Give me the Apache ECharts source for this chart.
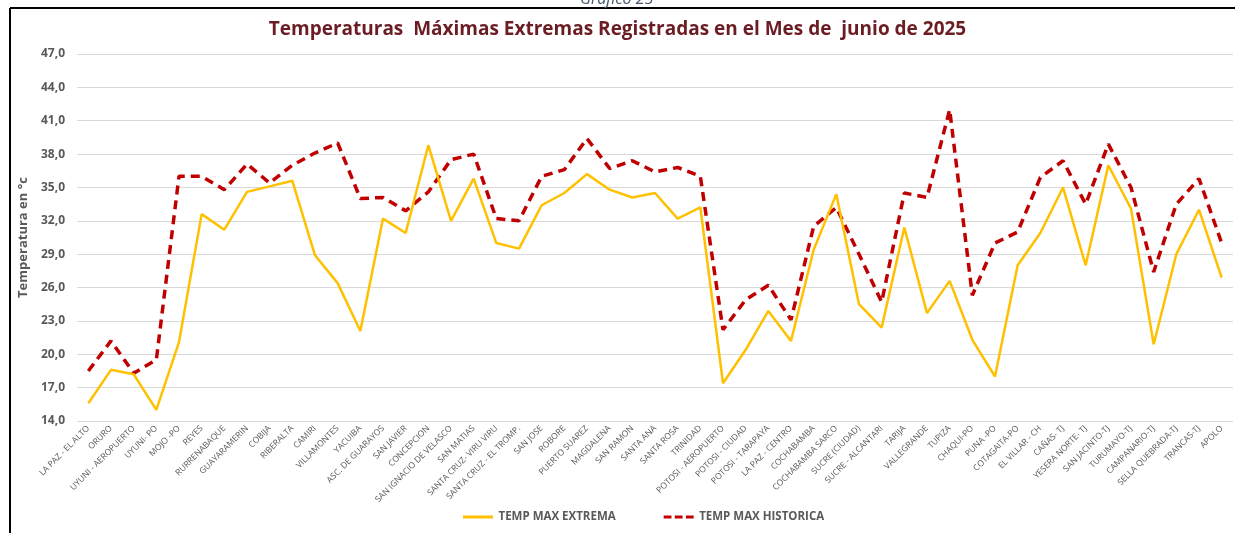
<!DOCTYPE html>
<html>
<head>
<meta charset="utf-8">
<script src="https://cdn.jsdelivr.net/npm/echarts@6/dist/echarts.min.js"></script>
<style>
  html, body { margin: 0; padding: 0; background: #fff; }
  #chart { width: 1235px; height: 533px; }
</style>
</head>
<body>
<div id="chart"></div>
<script>
const stations = [
  'LA PAZ - EL ALTO', 'ORURO', 'UYUNI - AEROPUERTO', 'UYUNI- PO', 'MOJO -PO', 'REYES',
  'RURRENABAQUE', 'GUAYARAMERIN', 'COBIJA', 'RIBERALTA', 'CAMIRI', 'VILLAMONTES',
  'YACUIBA', 'ASC. DE GUARAYOS', 'SAN JAVIER', 'CONCEPCION', 'SAN IGNACIO DE VELASCO',
  'SAN MATIAS', 'SANTA CRUZ- VIRU VIRU', 'SANTA CRUZ - EL TROMP.', 'SAN JOSE', 'ROBORE',
  'PUERTO SUAREZ', 'MAGDALENA', 'SAN RAMON', 'SANTA ANA', 'SANTA ROSA', 'TRINIDAD',
  'POTOSI - AEROPUERTO', 'POTOSI - CIUDAD', 'POTOSI - TARAPAYA', 'LA PAZ - CENTRO',
  'COCHABAMBA', 'COCHABAMBA SARCO', 'SUCRE (CIUDAD)', 'SUCRE - ALCANTARI', 'TARIJA',
  'VALLEGRANDE', 'TUPIZA', 'CHAQUI-PO', 'PUNA -PO', 'COTAGAITA-PO', 'EL VILLAR - CH',
  'CAÑAS- TJ', 'YESERA NORTE- TJ', 'SAN JACINTO-TJ', 'TURUMAYO-TJ', 'CAMPANARIO-TJ',
  'SELLA QUEBRADA-TJ', 'TRANCAS-TJ', 'APOLO'
];

const tempMaxExtrema = [
  15.6, 18.6, 18.2, 15.0, 21.1, 32.6, 31.2, 34.6, 35.1, 35.6, 28.9, 26.4,
  22.1, 32.2, 30.9, 38.8, 32.0, 35.8, 30.0, 29.5, 33.4, 34.5, 36.2, 34.8,
  34.1, 34.5, 32.2, 33.2, 17.4, 20.4, 23.9, 21.2, 29.4, 34.4, 24.5, 22.4,
  31.4, 23.7, 26.6, 21.3, 18.0, 28.0, 30.9, 35.0, 28.0, 37.0, 33.1, 20.9,
  29.0, 33.0, 26.9
];

const tempMaxHistorica = [
  18.5, 21.2, 18.3, 19.5, 36.0, 36.0, 34.8, 37.1, 35.4, 37.0, 38.1, 39.0,
  34.0, 34.1, 32.9, 34.6, 37.5, 38.0, 32.2, 32.0, 36.0, 36.6, 39.4, 36.7,
  37.4, 36.4, 36.8, 36.0, 22.2, 24.9, 26.2, 23.1, 31.5, 33.2, 29.0, 24.7,
  34.5, 34.1, 42.0, 25.3, 30.0, 31.0, 35.9, 37.4, 33.5, 38.9, 35.0, 27.4,
  33.5, 35.8, 30.0
];

const yMin = 14, yMax = 47, yStep = 3;

const chart = echarts.init(document.getElementById('chart'));

chart.setOption({
  animation: false,
  textStyle: { fontFamily: 'Open Sans' },
  title: {
    text: 'Temperaturas  Máximas Extremas Registradas en el Mes de  junio de 2025',
    left: 'center',
    top: 15,
    textStyle: { color: '#6b1d24', fontSize: 19, fontWeight: 'bold', fontFamily: 'Open Sans' }
  },
  graphic: [
    { type: 'line', shape: { x1: 10, y1: 8, x2: 1235, y2: 8 }, style: { stroke: '#000', lineWidth: 2 } },
    { type: 'line', shape: { x1: 10, y1: 8, x2: 10, y2: 533 }, style: { stroke: '#000', lineWidth: 2 } },
    {
      type: 'text', left: 580, top: -9,
      style: { text: 'Gráfico 25', fill: '#44546a', font: 'italic 16px "Open Sans"' }
    }
  ],
  legend: {
    bottom: 5,
    left: 458,
    itemGap: 48,
    itemWidth: 33,
    itemHeight: 3,
    icon: 'path://M0,0 H100 V10 H0 Z',
    textStyle: { color: '#595959', fontSize: 11.5, fontWeight: 'bold', padding: [0, 0, 0, -1] },
    data: [
      { name: 'TEMP MAX EXTREMA', itemStyle: { color: '#ffc000' } },
      { name: 'TEMP MAX HISTORICA', icon: 'path://M0,0 H26 V10 H0 Z M37,0 H63 V10 H37 Z M74,0 H100 V10 H74 Z', itemStyle: { color: '#c00000' } }
    ]
  },
  grid: { left: 77, right: 2, top: 54, bottom: 112 },
  xAxis: {
    type: 'category',
    data: stations,
    boundaryGap: true,
    axisLine: { show: false },
    axisTick: { show: false },
    axisLabel: {
      interval: 0,
      rotate: 45,
      fontSize: 8.5,
      color: '#595959',
      margin: 6
    }
  },
  yAxis: {
    type: 'value',
    min: yMin,
    max: yMax,
    interval: yStep,
    name: 'Temperatura en °c',
    nameLocation: 'middle',
    nameGap: 38,
    nameTextStyle: { color: '#595959', fontSize: 13, fontWeight: 'bold' },
    axisLine: { show: false },
    axisTick: { show: false },
    axisLabel: {
      color: '#595959',
      fontSize: 12,
      fontWeight: 'bold',
      margin: 12,
      formatter: v => v.toFixed(1).replace('.', ',')
    },
    splitLine: { lineStyle: { color: '#d9d9d9', width: 1 } }
  },
  series: [
    {
      name: 'TEMP MAX EXTREMA',
      type: 'line',
      data: tempMaxExtrema,
      symbol: 'none',
      lineStyle: { color: '#ffc000', width: 2.5 },
      itemStyle: { color: '#ffc000' },
      z: 3
    },
    {
      name: 'TEMP MAX HISTORICA',
      type: 'line',
      data: tempMaxHistorica,
      symbol: 'none',
      lineStyle: { color: '#c00000', width: 3.5, type: [9, 6] },
      itemStyle: { color: '#c00000' },
      z: 2
    }
  ]
});
</script>
</body>
</html>
